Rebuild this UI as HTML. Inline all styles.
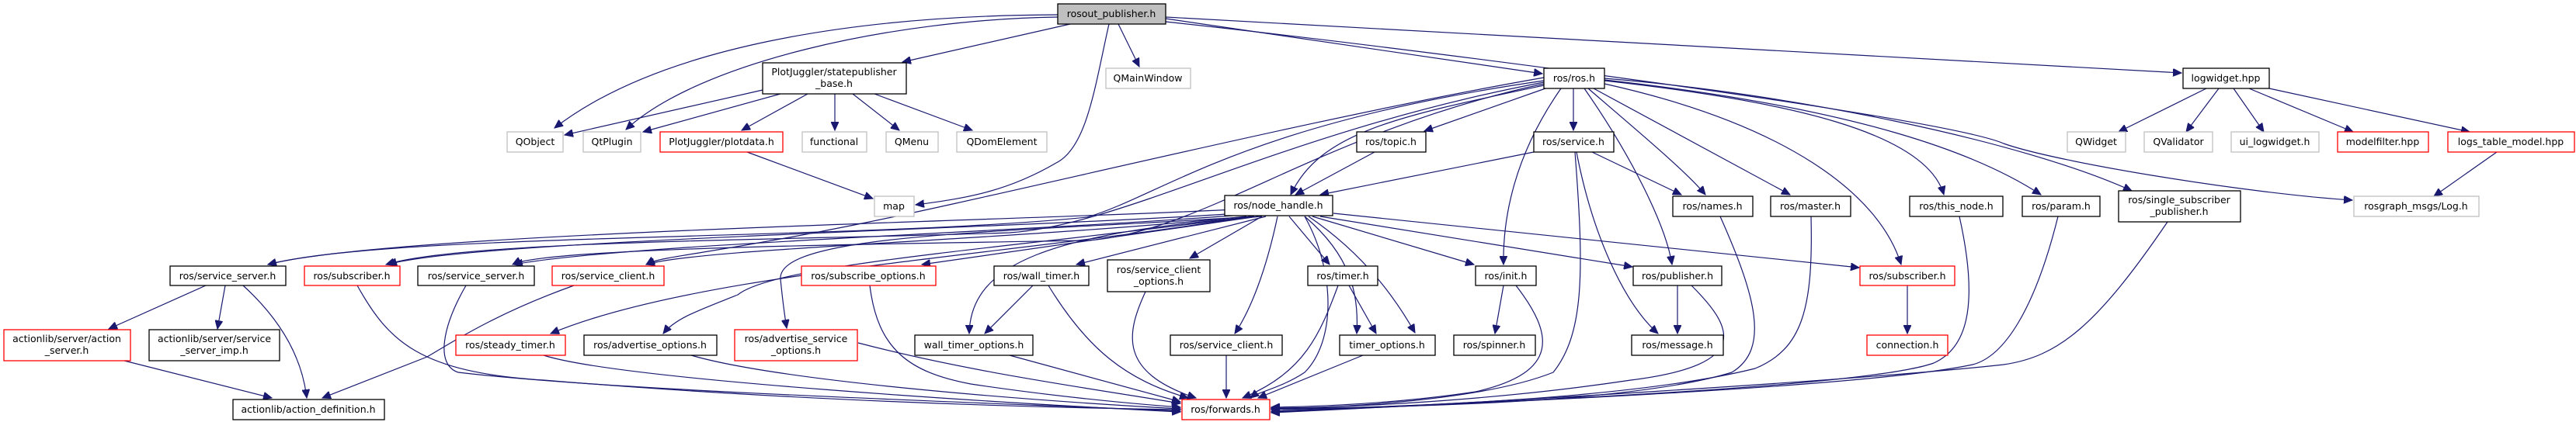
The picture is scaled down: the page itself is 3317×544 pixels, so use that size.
<!DOCTYPE html>
<html><head><meta charset="utf-8"><style>
html,body{margin:0;padding:0;background:#fff;}
svg{display:block;}
text{font-family:"DejaVu Sans","Liberation Sans",sans-serif;font-size:12.5px;fill:#000;}
.e{fill:none;stroke:#191970;stroke-width:1.2;marker-end:url(#a);}
.n{fill:#fff;stroke:#000;stroke-width:1.3;}
.g{fill:#fff;stroke:#bfbfbf;stroke-width:1.3;}
.r{fill:#fff;stroke:#ff0000;stroke-width:1.3;}
</style></head><body>
<svg width="3317" height="544" viewBox="0 0 3317 544" xmlns="http://www.w3.org/2000/svg">
<defs><marker id="a" markerUnits="userSpaceOnUse" markerWidth="12" markerHeight="10" refX="11" refY="5" orient="auto"><path d="M0,0 L11,5 L0,10 z" fill="#191970" stroke="#191970"/></marker></defs>
<g>
<path class="e" d="M1362,19 C1100,20 850,60 714,165"/>
<path class="e" d="M1362,22 C1150,25 900,80 806,167"/>
<path class="e" d="M1378,31 L1162,80"/>
<path class="e" d="M1428,31 C1410,110 1400,190 1360,210 C1300,245 1250,255 1179,264"/>
<path class="e" d="M1440,31 L1467,86"/>
<path class="e" d="M1501,24 L1986,95"/>
<path class="e" d="M1501,22 L2809,94"/>
<path class="e" d="M1501,28 C1800,60 2500,150 2580,185 C2650,210 2900,250 3029,258"/>
<path class="e" d="M982,116 L727,174"/>
<path class="e" d="M1005,121 L828,170"/>
<path class="e" d="M1040,121 L955,168"/>
<path class="e" d="M1075,121 L1075,168"/>
<path class="e" d="M1098,121 L1158,168"/>
<path class="e" d="M1126,121 L1252,168"/>
<path class="e" d="M962,196 L1124,256"/>
<path class="e" d="M1990,114 L1834,169"/>
<path class="e" d="M2026,114 L2026,168"/>
<path class="e" d="M1988,110 C1800,150 1700,170 1662,251"/>
<path class="e" d="M2010,114 C1950,200 1935,280 1936,341"/>
<path class="e" d="M2040,114 C2100,200 2145,290 2153,341"/>
<path class="e" d="M2045,114 C2110,170 2170,220 2196,251"/>
<path class="e" d="M2052,114 L2305,251"/>
<path class="e" d="M2066,108 C2300,160 2420,250 2448,341"/>
<path class="e" d="M2066,104 C2300,130 2480,170 2503,251"/>
<path class="e" d="M2066,103 C2400,140 2550,200 2628,251"/>
<path class="e" d="M2066,101 C2300,120 2600,180 2745,246"/>
<path class="e" d="M1988,104 C1600,160 1500,250 1400,280 C1100,310 500,300 345,341"/>
<path class="e" d="M1988,106 C1650,170 1450,290 1300,300 C1000,310 600,310 497,341"/>
<path class="e" d="M1988,108 C1700,170 1550,300 1400,310 C1100,315 700,320 660,341"/>
<path class="e" d="M1988,100 C1700,150 1300,250 1100,290 C900,330 850,330 832,341"/>
<path class="e" d="M1770,196 L1668,251"/>
<path class="e" d="M1975,196 L1700,251"/>
<path class="e" d="M2050,196 L2165,251"/>
<path class="e" d="M2030,196 C2050,300 2090,390 2135,430"/>
<path class="e" d="M2028,196 C2040,350 2040,430 2000,480 C1900,520 1700,525 1637,528"/>
<path class="e" d="M2215,279 C2260,380 2280,450 2230,480 C2100,520 1800,525 1637,527"/>
<path class="e" d="M2332,279 C2335,400 2320,450 2260,475 C2100,515 1800,525 1637,528"/>
<path class="e" d="M2523,279 C2550,400 2530,450 2490,468 C2400,500 1900,520 1637,530"/>
<path class="e" d="M2650,279 C2620,400 2580,460 2540,470 C2400,500 1900,520 1637,531"/>
<path class="e" d="M2791,286 C2700,420 2650,460 2580,470 C2400,490 1900,520 1637,532"/>
<path class="e" d="M2178,368 C2230,420 2260,470 2100,490 C1900,520 1700,526 1637,526"/>
<path class="e" d="M1952,368 C2000,430 2010,480 1900,505 C1800,520 1700,524 1637,525"/>
<path class="e" d="M2456,368 L2456,430"/>
<path class="e" d="M2160,368 L2160,430"/>
<path class="e" d="M1936,368 L1925,430"/>
<path class="e" d="M1737,368 L1772,430"/>
<path class="e" d="M1723,368 C1700,430 1680,480 1600,513"/>
<path class="e" d="M1755,458 L1620,513"/>
<path class="e" d="M1680,279 C1720,350 1720,440 1680,480 C1650,500 1620,505 1610,513"/>
<path class="e" d="M1590,270 C1300,285 500,300 345,341"/>
<path class="e" d="M1595,275 C1300,295 600,310 500,341"/>
<path class="e" d="M1600,277 C1300,300 800,315 662,341"/>
<path class="e" d="M1605,279 C1300,310 900,320 832,341"/>
<path class="e" d="M1610,279 C1300,330 900,350 709,430"/>
<path class="e" d="M1612,279 C1300,320 1000,340 950,380 C900,400 870,410 854,430"/>
<path class="e" d="M1615,279 C1300,300 1000,300 1005,360 C1008,390 1010,405 1013,423"/>
<path class="e" d="M1620,279 L1187,341"/>
<path class="e" d="M1630,279 L1386,341"/>
<path class="e" d="M1625,279 C1350,300 1250,340 1248,430"/>
<path class="e" d="M1625,279 L1532,333"/>
<path class="e" d="M1645,279 C1630,350 1610,400 1590,430"/>
<path class="e" d="M1660,279 L1712,341"/>
<path class="e" d="M1680,279 C1740,330 1750,380 1747,430"/>
<path class="e" d="M1685,279 C1760,330 1800,390 1822,429"/>
<path class="e" d="M1690,279 L1898,341"/>
<path class="e" d="M1700,279 L2102,344"/>
<path class="e" d="M1717,275 L2394,345"/>
<path class="e" d="M265,368 L140,424"/>
<path class="e" d="M290,368 L280,424"/>
<path class="e" d="M313,368 C370,420 390,470 395,513"/>
<path class="e" d="M160,465 L350,513"/>
<path class="e" d="M739,368 C650,400 600,430 550,460 L415,513"/>
<path class="e" d="M460,368 C500,440 540,480 700,490 C1000,515 1300,525 1520,528"/>
<path class="e" d="M600,368 C570,420 560,470 590,480 C800,505 1300,520 1520,530"/>
<path class="e" d="M700,458 C800,490 1300,520 1520,531"/>
<path class="e" d="M890,458 C1000,490 1300,515 1520,527"/>
<path class="e" d="M1105,442 C1250,480 1400,500 1520,520"/>
<path class="e" d="M1120,368 C1130,450 1170,480 1250,495 C1350,510 1450,520 1520,525"/>
<path class="e" d="M1330,368 L1268,430"/>
<path class="e" d="M1350,368 C1400,450 1450,490 1530,513"/>
<path class="e" d="M1300,458 L1520,518"/>
<path class="e" d="M1475,376 C1450,430 1440,480 1540,513"/>
<path class="e" d="M1579,458 L1579,513"/>
<path class="e" d="M3215,196 L3134,253"/>
<path class="e" d="M2841,114 L2728,170"/>
<path class="e" d="M2857,114 L2815,170"/>
<path class="e" d="M2876,114 L2915,170"/>
<path class="e" d="M2896,114 L3030,170"/>
<path class="e" d="M2922,114 L3180,170"/>
</g>
<g text-anchor="middle">
<rect x="1362" y="5" width="139" height="26" fill="#bfbfbf" stroke="#000" stroke-width="1.3"/><text x="1431" y="22">rosout_publisher.h</text>
<rect class="n" x="982" y="81" width="185" height="40"/><text x="1074" y="97">PlotJuggler/statepublisher</text><text x="1074" y="112">_base.h</text>
<rect class="g" x="1424" y="88" width="109" height="26"/><text x="1478" y="105">QMainWindow</text>
<rect class="n" x="1988" y="88" width="78" height="26"/><text x="2027" y="105">ros/ros.h</text>
<rect class="n" x="2811" y="88" width="111" height="26"/><text x="2866" y="105">logwidget.hpp</text>
<rect class="g" x="653" y="170" width="72" height="26"/><text x="689" y="187">QObject</text>
<rect class="g" x="751" y="170" width="74" height="26"/><text x="788" y="187">QtPlugin</text>
<rect class="r" x="850" y="170" width="158" height="26"/><text x="929" y="187">PlotJuggler/plotdata.h</text>
<rect class="g" x="1033" y="170" width="83" height="26"/><text x="1074" y="187">functional</text>
<rect class="g" x="1141" y="170" width="67" height="26"/><text x="1174" y="187">QMenu</text>
<rect class="g" x="1232" y="170" width="116" height="26"/><text x="1290" y="187">QDomElement</text>
<rect class="n" x="1747" y="170" width="89" height="26"/><text x="1791" y="187">ros/topic.h</text>
<rect class="n" x="1975" y="170" width="103" height="26"/><text x="2026" y="187">ros/service.h</text>
<rect class="g" x="2662" y="170" width="75" height="26"/><text x="2699" y="187">QWidget</text>
<rect class="g" x="2761" y="170" width="88" height="26"/><text x="2805" y="187">QValidator</text>
<rect class="g" x="2873" y="170" width="113" height="26"/><text x="2929" y="187">ui_logwidget.h</text>
<rect class="r" x="3010" y="170" width="117" height="26"/><text x="3068" y="187">modelfilter.hpp</text>
<rect class="r" x="3152" y="170" width="163" height="26"/><text x="3233" y="187">logs_table_model.hpp</text>
<rect class="g" x="1126" y="253" width="51" height="26"/><text x="1151" y="270">map</text>
<rect class="n" x="1577" y="252" width="139" height="26"/><text x="1646" y="269">ros/node_handle.h</text>
<rect class="n" x="2154" y="253" width="103" height="26"/><text x="2205" y="270">ros/names.h</text>
<rect class="n" x="2280" y="253" width="103" height="26"/><text x="2331" y="270">ros/master.h</text>
<rect class="n" x="2459" y="253" width="120" height="26"/><text x="2519" y="270">ros/this_node.h</text>
<rect class="n" x="2604" y="253" width="100" height="26"/><text x="2654" y="270">ros/param.h</text>
<rect class="n" x="2728" y="246" width="157" height="40"/><text x="2806" y="262">ros/single_subscriber</text><text x="2806" y="277">_publisher.h</text>
<rect class="g" x="3031" y="253" width="161" height="26"/><text x="3111" y="270">rosgraph_msgs/Log.h</text>
<rect class="n" x="219" y="343" width="149" height="25"/><text x="293" y="360">ros/service_server.h</text>
<rect class="r" x="392" y="343" width="123" height="25"/><text x="453" y="360">ros/subscriber.h</text>
<rect class="n" x="538" y="343" width="150" height="25"/><text x="613" y="360">ros/service_server.h</text>
<rect class="r" x="711" y="343" width="144" height="25"/><text x="783" y="360">ros/service_client.h</text>
<rect class="r" x="1032" y="343" width="173" height="25"/><text x="1118" y="360">ros/subscribe_options.h</text>
<rect class="n" x="1280" y="343" width="122" height="25"/><text x="1341" y="360">ros/wall_timer.h</text>
<rect class="n" x="1426" y="335" width="132" height="41"/><text x="1492" y="352">ros/service_client</text><text x="1492" y="367">_options.h</text>
<rect class="n" x="1684" y="343" width="90" height="25"/><text x="1729" y="360">ros/timer.h</text>
<rect class="n" x="1900" y="343" width="78" height="25"/><text x="1939" y="360">ros/init.h</text>
<rect class="n" x="2103" y="343" width="114" height="25"/><text x="2160" y="360">ros/publisher.h</text>
<rect class="r" x="2395" y="343" width="122" height="25"/><text x="2456" y="360">ros/subscriber.h</text>
<rect class="r" x="5" y="425" width="163" height="40"/><text x="86" y="441">actionlib/server/action</text><text x="86" y="456">_server.h</text>
<rect class="n" x="192" y="425" width="168" height="40"/><text x="276" y="441">actionlib/server/service</text><text x="276" y="456">_server_imp.h</text>
<rect class="r" x="587" y="432" width="141" height="26"/><text x="657" y="449">ros/steady_timer.h</text>
<rect class="n" x="752" y="432" width="171" height="26"/><text x="837" y="449">ros/advertise_options.h</text>
<rect class="r" x="946" y="425" width="158" height="40"/><text x="1025" y="441">ros/advertise_service</text><text x="1025" y="456">_options.h</text>
<rect class="n" x="1178" y="432" width="152" height="26"/><text x="1254" y="449">wall_timer_options.h</text>
<rect class="n" x="1507" y="432" width="144" height="26"/><text x="1579" y="449">ros/service_client.h</text>
<rect class="n" x="1725" y="432" width="123" height="26"/><text x="1786" y="449">timer_options.h</text>
<rect class="n" x="1872" y="432" width="105" height="26"/><text x="1924" y="449">ros/spinner.h</text>
<rect class="n" x="2101" y="432" width="118" height="26"/><text x="2160" y="449">ros/message.h</text>
<rect class="r" x="2404" y="432" width="104" height="26"/><text x="2456" y="449">connection.h</text>
<rect class="n" x="300" y="515" width="195" height="26"/><text x="397" y="532">actionlib/action_definition.h</text>
<rect class="r" x="1522" y="515" width="113" height="26"/><text x="1578" y="532">ros/forwards.h</text>
</g>
</svg>
</body></html>
